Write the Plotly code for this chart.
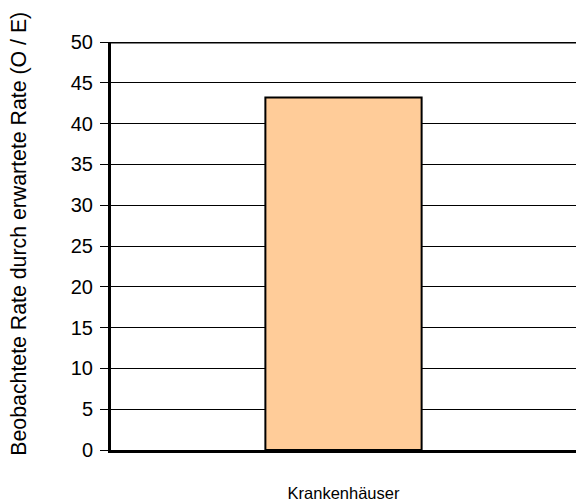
import plotly.graph_objects as go

categories = ["Krankenhäuser"]
values = [43.2]
y_ticks = [0, 5, 10, 15, 20, 25, 30, 35, 40, 45, 50]
y_title = "Beobachtete Rate durch erwartete Rate (O / E)"

fig = go.Figure()
fig.add_trace(go.Bar(
    x=categories,
    y=values,
    marker=dict(color="#FFCC99", line=dict(color="black", width=2)),
    width=0.336,
))

# heavier rule across the top of the plot area
fig.add_shape(type="line", xref="paper", yref="y", x0=0, x1=1, y0=50, y1=50,
              line=dict(color="black", width=3))

# vertical axis caption
fig.add_annotation(
    text=y_title, textangle=-90, showarrow=False,
    xref="paper", yref="paper", x=-0.198, y=0.53,
    xanchor="center", yanchor="middle",
    font=dict(size=21.3),
)

fig.update_layout(
    width=576, height=503,
    margin=dict(l=111, r=0, t=42, b=53),
    paper_bgcolor="white", plot_bgcolor="white",
    font=dict(family="Liberation Sans, Arial, sans-serif", size=15, color="black"),
    showlegend=False,
    xaxis=dict(
        showline=True, linecolor="black", linewidth=3,
        ticks="", ticklabelstandoff=26,
        tickfont=dict(size=16.5),
        range=[-0.5, 0.5],
    ),
    yaxis=dict(
        range=[0, 50], tickvals=y_ticks,
        showline=True, linecolor="black", linewidth=3,
        ticks="outside", ticklen=8, tickcolor="black", tickwidth=1,
        ticklabelstandoff=3,
        showgrid=True, gridcolor="black", gridwidth=1,
        zeroline=False,
        tickfont=dict(size=20),
        automargin=False,
    ),
)

fig.write_html("out.html")
